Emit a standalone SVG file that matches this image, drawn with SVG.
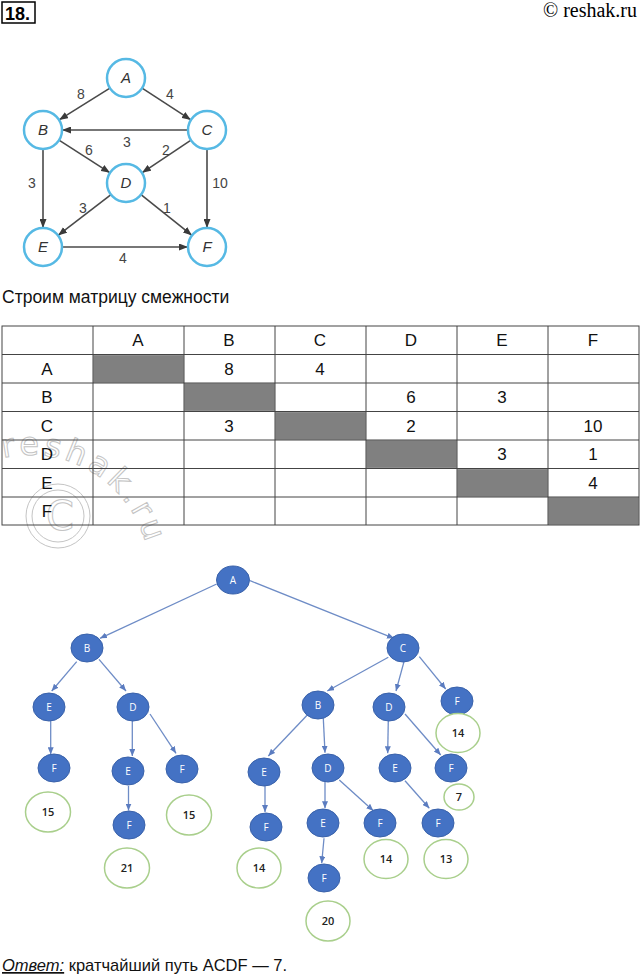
<svg xmlns="http://www.w3.org/2000/svg" xmlns:xlink="http://www.w3.org/1999/xlink" width="641" height="977" viewBox="0 0 641 977">
<style>
  .gnode { fill: #ffffff; stroke: #56b9e4; stroke-width: 2.5; }
  .glabel { font-family: "Liberation Sans", Arial, sans-serif; font-style: italic; font-size: 15px; fill: #333; text-anchor: middle; }
  .gedge { stroke: #4a4a4a; stroke-width: 1.6; fill: none; marker-end: url(#ga); }
  .gw { font-family: "Liberation Sans", Arial, sans-serif; font-size: 14px; fill: #444; text-anchor: middle; }
  .grid { stroke: #444; stroke-width: 1; fill: none; }
  .gray { fill: #808080; stroke: #9a9a9a; stroke-width: 1; }
  .tt { font-family: "Liberation Sans", Arial, sans-serif; font-size: 17px; fill: #111; text-anchor: middle; }
  .tnode { fill: #4472c4; stroke: #3a62aa; stroke-width: 1; }
  .tlabel { font-family: "Open Sans", "Liberation Sans", sans-serif; font-size: 10px; fill: #ffffff; text-anchor: middle; }
  .tedge { stroke: #6e8cc6; stroke-width: 1.3; fill: none; marker-end: url(#ta); }
  .sum { fill: #ffffff; stroke: #a9cf8c; stroke-width: 1.5; }
  .stext { font-family: "Open Sans", "Liberation Sans", sans-serif; font-size: 11px; font-weight: 600; fill: #222; text-anchor: middle; }
  .wm { fill: none; stroke: #c4c4c4; stroke-width: 1; }
</style>
<defs>
  <marker id="ga" markerWidth="9" markerHeight="7" refX="9" refY="3.5" orient="auto" markerUnits="userSpaceOnUse">
    <path d="M0,0 L9,3.5 L0,7 Z" fill="#3a3a3a"/>
  </marker>
  <marker id="ta" markerWidth="7" markerHeight="6" refX="7" refY="3" orient="auto" markerUnits="userSpaceOnUse">
    <path d="M0,0 L7,3 L0,6 Z" fill="#5b7cc0"/>
  </marker>
  <path id="wmarc" d="M 3,458 A 120 120 0 0 1 150,575"/>
</defs>
<rect width="641" height="977" fill="#ffffff"/>

<!-- header -->
<g id="header">
  <rect x="2" y="2" width="33" height="21" fill="none" stroke="#000" stroke-width="1.5"/>
  <text x="5" y="20" font-family="Liberation Sans, Arial, sans-serif" font-size="18" font-weight="bold">18.</text>
  <text x="637" y="17" font-family="Liberation Serif, Times New Roman, serif" font-size="20" text-anchor="end">© reshak.ru</text>
</g>

<!-- top graph connectors -->
<g id="graph-edges">
  <line class="gedge" x1="109.9" y1="88.1" x2="59.1" y2="119.9"/>
  <line class="gedge" x1="142.1" y1="88.1" x2="190.9" y2="119.9"/>
  <line class="gedge" x1="188" y1="130" x2="62" y2="130"/>
  <line class="gedge" x1="59" y1="140.2" x2="110" y2="172.8"/>
  <line class="gedge" x1="191" y1="140.2" x2="142" y2="172.8"/>
  <line class="gedge" x1="43" y1="149" x2="43" y2="228"/>
  <line class="gedge" x1="207" y1="149" x2="207" y2="228"/>
  <line class="gedge" x1="111" y1="194.6" x2="58" y2="235.4"/>
  <line class="gedge" x1="141" y1="194.6" x2="192" y2="235.4"/>
  <line class="gedge" x1="62" y1="247" x2="188" y2="247"/>
  <text class="gw" x="81" y="99">8</text>
  <text class="gw" x="170" y="99">4</text>
  <text class="gw" x="127" y="147">3</text>
  <text class="gw" x="89" y="155">6</text>
  <text class="gw" x="166" y="155">2</text>
  <text class="gw" x="32" y="188">3</text>
  <text class="gw" x="220" y="188">10</text>
  <text class="gw" x="83" y="213">3</text>
  <text class="gw" x="167" y="213">1</text>
  <text class="gw" x="123" y="263">4</text>
</g>
<g id="g-A"><circle class="gnode" cx="126" cy="78" r="19"/><text class="glabel" x="126" y="83">A</text></g>
<g id="g-B"><circle class="gnode" cx="43" cy="130" r="19"/><text class="glabel" x="43" y="135">B</text></g>
<g id="g-C"><circle class="gnode" cx="207" cy="130" r="19"/><text class="glabel" x="207" y="135">C</text></g>
<g id="g-D"><circle class="gnode" cx="126" cy="183" r="19"/><text class="glabel" x="126" y="188">D</text></g>
<g id="g-E"><circle class="gnode" cx="43" cy="247" r="19"/><text class="glabel" x="43" y="252">E</text></g>
<g id="g-F"><circle class="gnode" cx="207" cy="247" r="19"/><text class="glabel" x="207" y="252">F</text></g>

<!-- caption -->
<text x="2" y="303" font-family="Liberation Sans, Arial, sans-serif" font-size="17.5" fill="#111">Строим матрицу смежности</text>

<!-- watermark (behind table text) -->
<g id="watermark">
  <text class="wm" font-family="DejaVu Sans, sans-serif" font-size="32" letter-spacing="4"><textPath xlink:href="#wmarc">reshak.ru</textPath></text>
  <circle class="wm" cx="58" cy="516" r="32"/>
  <circle class="wm" cx="58" cy="516" r="26"/>
  <text class="wm" x="60" y="530" font-family="DejaVu Sans, sans-serif" font-size="40" text-anchor="middle">C</text>
</g>

<!-- adjacency matrix -->
<g id="matrix">
  <rect class="gray" x="93.5" y="355" width="90" height="27.5"/>
  <rect class="gray" x="184.5" y="383.5" width="90" height="27.5"/>
  <rect class="gray" x="275.5" y="412" width="90" height="27.5"/>
  <rect class="gray" x="366.5" y="440.5" width="90" height="27.5"/>
  <rect class="gray" x="457.5" y="469" width="90" height="27.5"/>
  <rect class="gray" x="548.5" y="497.5" width="90" height="27"/>
  <rect class="grid" x="2" y="326" width="637" height="199"/>
  <path class="grid" d="M93,326V525 M184,326V525 M275,326V525 M366,326V525 M457,326V525 M548,326V525
    M2,354.5H639 M2,383H639 M2,411.5H639 M2,440H639 M2,468.5H639 M2,497H639"/>
  <text class="tt" x="138" y="346">A</text>
  <text class="tt" x="229" y="346">B</text>
  <text class="tt" x="320" y="346">C</text>
  <text class="tt" x="411" y="346">D</text>
  <text class="tt" x="502" y="346">E</text>
  <text class="tt" x="593" y="346">F</text>
  <text class="tt" x="47" y="375">A</text>
  <text class="tt" x="47" y="403">B</text>
  <text class="tt" x="47" y="432">C</text>
  <text class="tt" x="47" y="460">D</text>
  <text class="tt" x="47" y="489">E</text>
  <text class="tt" x="47" y="517">F</text>
  <text class="tt" x="229" y="375">8</text>
  <text class="tt" x="320" y="375">4</text>
  <text class="tt" x="411" y="403">6</text>
  <text class="tt" x="502" y="403">3</text>
  <text class="tt" x="229" y="432">3</text>
  <text class="tt" x="411" y="432">2</text>
  <text class="tt" x="593" y="432">10</text>
  <text class="tt" x="502" y="460">3</text>
  <text class="tt" x="593" y="460">1</text>
  <text class="tt" x="593" y="489">4</text>
</g>

<!-- tree connectors -->
<g id="tree-edges">
  <line class="tedge" x1="216.7" y1="584" x2="100" y2="638.3"/>
  <line class="tedge" x1="250" y1="580.7" x2="394" y2="638.3"/>
  <line class="tedge" x1="76.7" y1="661.7" x2="51.7" y2="691"/>
  <line class="tedge" x1="99" y1="659.3" x2="126" y2="691"/>
  <line class="tedge" x1="50.7" y1="720" x2="50.7" y2="754.3"/>
  <line class="tedge" x1="132.3" y1="720" x2="132.3" y2="756"/>
  <line class="tedge" x1="150" y1="714" x2="176" y2="753.3"/>
  <line class="tedge" x1="388.3" y1="657.3" x2="327.3" y2="691"/>
  <line class="tedge" x1="404" y1="661.7" x2="396" y2="691"/>
  <line class="tedge" x1="419.3" y1="656.7" x2="445.7" y2="689"/>
  <line class="tedge" x1="307.3" y1="715" x2="268.3" y2="756"/>
  <line class="tedge" x1="323.3" y1="718.3" x2="325" y2="752.7"/>
  <line class="tedge" x1="388.3" y1="720" x2="387.7" y2="753.3"/>
  <line class="tedge" x1="405" y1="714" x2="440.7" y2="755"/>
  <line class="tedge" x1="325" y1="781.7" x2="325" y2="808.3"/>
  <line class="tedge" x1="339.3" y1="780" x2="373.3" y2="810.7"/>
  <line class="tedge" x1="405" y1="780.7" x2="429.3" y2="808.3"/>
  <line class="tedge" x1="324" y1="838.3" x2="321.7" y2="863.3"/>
  <line class="tedge" x1="128.5" y1="786" x2="128.5" y2="810.5"/>
  <line class="tedge" x1="265" y1="785.5" x2="265" y2="812"/>
</g>

<!-- tree nodes -->
<g id="t-A"><ellipse class="tnode" cx="233" cy="580" rx="16.5" ry="14"/><text class="tlabel" x="233" y="584">A</text></g>
<g id="t-B1"><ellipse class="tnode" cx="87" cy="648" rx="16" ry="14"/><text class="tlabel" x="87" y="652">B</text></g>
<g id="t-C"><ellipse class="tnode" cx="403" cy="648" rx="16" ry="14"/><text class="tlabel" x="403" y="652">C</text></g>
<g id="t-E1"><ellipse class="tnode" cx="49" cy="707" rx="16" ry="14"/><text class="tlabel" x="49" y="711">E</text></g>
<g id="t-D1"><ellipse class="tnode" cx="133" cy="707" rx="16" ry="14"/><text class="tlabel" x="133" y="711">D</text></g>
<g id="t-B2"><ellipse class="tnode" cx="318" cy="705" rx="16" ry="14"/><text class="tlabel" x="318" y="709">B</text></g>
<g id="t-D2"><ellipse class="tnode" cx="389" cy="707" rx="16" ry="14"/><text class="tlabel" x="389" y="711">D</text></g>
<g id="t-F1"><ellipse class="tnode" cx="457" cy="701" rx="16" ry="14"/><text class="tlabel" x="457" y="705">F</text></g>
<g id="t-F2"><ellipse class="tnode" cx="54" cy="768" rx="16" ry="14"/><text class="tlabel" x="54" y="772">F</text></g>
<g id="t-E2"><ellipse class="tnode" cx="128" cy="771" rx="16" ry="14"/><text class="tlabel" x="128" y="775">E</text></g>
<g id="t-F3"><ellipse class="tnode" cx="182" cy="769" rx="16" ry="14"/><text class="tlabel" x="182" y="773">F</text></g>
<g id="t-E3"><ellipse class="tnode" cx="264" cy="772" rx="16" ry="14"/><text class="tlabel" x="264" y="776">E</text></g>
<g id="t-D3"><ellipse class="tnode" cx="328" cy="768" rx="16" ry="14"/><text class="tlabel" x="328" y="772">D</text></g>
<g id="t-E4"><ellipse class="tnode" cx="395" cy="768" rx="16" ry="14"/><text class="tlabel" x="395" y="772">E</text></g>
<g id="t-F4"><ellipse class="tnode" cx="451" cy="768" rx="16" ry="14"/><text class="tlabel" x="451" y="772">F</text></g>
<g id="t-F5"><ellipse class="tnode" cx="129" cy="825" rx="16" ry="14"/><text class="tlabel" x="129" y="829">F</text></g>
<g id="t-F6"><ellipse class="tnode" cx="266" cy="827" rx="16" ry="14"/><text class="tlabel" x="266" y="831">F</text></g>
<g id="t-E5"><ellipse class="tnode" cx="323" cy="823" rx="16" ry="14"/><text class="tlabel" x="323" y="827">E</text></g>
<g id="t-F7"><ellipse class="tnode" cx="380" cy="823" rx="16" ry="14"/><text class="tlabel" x="380" y="827">F</text></g>
<g id="t-F8"><ellipse class="tnode" cx="438" cy="823" rx="16" ry="14"/><text class="tlabel" x="438" y="827">F</text></g>
<g id="t-F9"><ellipse class="tnode" cx="324" cy="878" rx="16" ry="14"/><text class="tlabel" x="324" y="882">F</text></g>

<!-- path sums -->
<g id="s-14a"><ellipse class="sum" cx="458" cy="733" rx="22" ry="19.5"/><text class="stext" x="458" y="737">14</text></g>
<g id="s-15a"><ellipse class="sum" cx="48" cy="812" rx="22.5" ry="20"/><text class="stext" x="48" y="816">15</text></g>
<g id="s-15b"><ellipse class="sum" cx="189" cy="815" rx="22.5" ry="20"/><text class="stext" x="189" y="819">15</text></g>
<g id="s-7"><ellipse class="sum" cx="459" cy="797" rx="15" ry="13"/><text class="stext" x="459" y="801">7</text></g>
<g id="s-21"><ellipse class="sum" cx="127" cy="868" rx="22.5" ry="20"/><text class="stext" x="127" y="872">21</text></g>
<g id="s-14b"><ellipse class="sum" cx="259" cy="868" rx="22" ry="20"/><text class="stext" x="259" y="872">14</text></g>
<g id="s-14c"><ellipse class="sum" cx="386" cy="859" rx="22" ry="19.5"/><text class="stext" x="386" y="863">14</text></g>
<g id="s-13"><ellipse class="sum" cx="446" cy="859" rx="22" ry="19.5"/><text class="stext" x="446" y="863">13</text></g>
<g id="s-20"><ellipse class="sum" cx="328" cy="921" rx="22" ry="20"/><text class="stext" x="328" y="925">20</text></g>

<!-- answer -->
<text x="2" y="971" font-family="Liberation Sans, Arial, sans-serif" font-size="17" fill="#111" textLength="285" lengthAdjust="spacingAndGlyphs"><tspan font-style="italic" text-decoration="underline">Ответ:</tspan> кратчайший путь ACDF — 7.</text>
</svg>
